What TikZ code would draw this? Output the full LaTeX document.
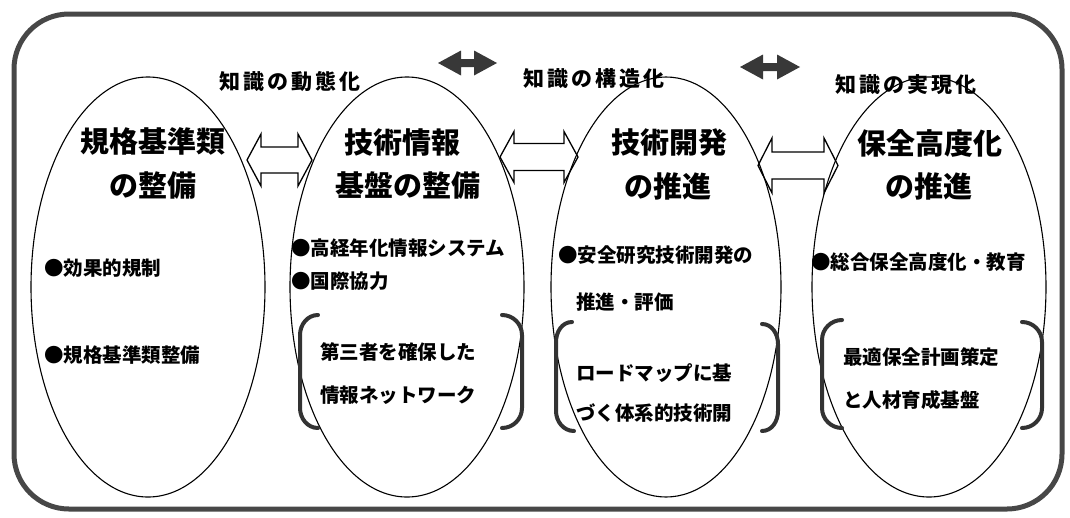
\documentclass[tikz,border=0pt]{standalone}
\usepackage{fontspec}
\newfontfamily\jp{Noto Sans CJK JP}
\usetikzlibrary{shapes.geometric}
\newcommand\hollowdbl[5]{% xl, xr, yc, shaft half, head half
  \draw[harrow] (#1,#3) -- ({#1+14},{#3-#5}) -- ({#1+14},{#3-#4}) -- ({#2-14},{#3-#4}) -- ({#2-14},{#3-#5}) -- (#2,#3)
   -- ({#2-14},{#3+#5}) -- ({#2-14},{#3+#4}) -- ({#1+14},{#3+#4}) -- ({#1+14},{#3+#5}) -- cycle;}
\newcommand\soliddbl[3]{% xl, xr, yc
  \fill[sarrow] (#1,#3) -- ({#1+23},{#3-12.5}) -- ({#1+23},{#3-4}) -- ({#2-23},{#3-4}) -- ({#2-23},{#3-12.5}) -- (#2,#3)
   -- ({#2-23},{#3+12.5}) -- ({#2-23},{#3+4}) -- ({#1+23},{#3+4}) -- ({#1+23},{#3+12.5}) -- cycle;}
\begin{document}
\begin{tikzpicture}[x=1pt,y=-1pt,
  frame/.style={line width=5pt, draw=black!72, rounded corners=55pt},
  oval/.style={ellipse, draw, line width=1.1pt, inner sep=0pt, minimum width=234pt, minimum height=420pt},
  head/.style={font=\jp\bfseries\fontsize{29}{29}\selectfont, inner sep=0pt},
  toplab/.style={font=\jp\bfseries\fontsize{21}{21}\selectfont\addfontfeatures{LetterSpace=15}, inner sep=0pt},
  item/.style={font=\jp\bfseries\fontsize{19.5}{19.5}\selectfont, inner sep=0pt, anchor=west},
  brk/.style={line width=4pt, draw=black!80, line cap=round},
  harrow/.style={draw, line width=1.3pt, line join=miter},
  sarrow/.style={fill=black!78}]
\useasboundingbox (0,0) rectangle (1070,517);
\draw[frame] (14,14) rectangle (1062,509);

% ellipses
\node[oval] (e1) at (148,287) {};
\node[oval] (e2) at (407,287) {};
\node[oval, minimum width=230pt] (e3) at (666,287) {};
\node[oval] (e4) at (929,287) {};

% top labels and solid arrows
\node[toplab] (k1) at (290,82) {知識の動態化};
\node[toplab] (k2) at (594,79) {知識の構造化};
\node[toplab] (k3) at (906,85) {知識の実現化};
\soliddbl{438}{497}{63}
\soliddbl{740}{800}{67}

% hollow arrows between ellipses
\hollowdbl{247}{312}{160}{13}{26}
\hollowdbl{500}{578}{157}{13.5}{25.5}
\hollowdbl{758}{838}{165.5}{13.5}{27.5}

% headings
\node[head] (h1a) at (153,141) {規格基準類};
\node[head] (h1b) at (153,186) {の整備};
\node[head] (h2a) at (402,143) {技術情報};
\node[head] (h2b) at (408,186) {基盤の整備};
\node[head] (h3a) at (669,143) {技術開発};
\node[head] (h3b) at (668,186) {の推進};
\node[head] (h4a) at (930,143) {保全高度化};
\node[head] (h4b) at (929,186) {の推進};

% items ellipse 1
\node[item] (a1) at (44,268) {●効果的規制};
\node[item] (a2) at (44,355) {●規格基準類整備};
% ellipse 2
\node[item] (b1) at (291,248) {●高経年化情報システム};
\node[item] (b2) at (291,281) {●国際協力};
\node[item] (b3) at (320,352) {第三者を確保した};
\node[item] (b4) at (320,395) {情報ネットワーク};
% ellipse 3
\node[item] (c1) at (558,255) {●安全研究技術開発の};
\node[item] (c2) at (576,302) {推進・評価};
\node[item] (c3) at (576,373) {ロードマップに基};
\node[item] (c4) at (576,413) {づく体系的技術開};
% ellipse 4
\node[item] (d1) at (811,262) {●総合保全高度化・教育};
\node[item] (d2) at (843,357) {最適保全計画策定};
\node[item] (d3) at (843,400) {と人材育成基盤};

% brackets
\draw[brk] (318,315) to[out=180,in=90] (300,335) -- (300,408) to[out=-90,in=180] (318,428);
\draw[brk] (502,315) to[out=0,in=90] (522,335) -- (522,408) to[out=-90,in=0] (502,428);
\draw[brk] (572,322) to[out=180,in=90] (556,342) -- (556,411) to[out=-90,in=180] (574,431);
\draw[brk] (762,324) to[out=0,in=90] (778,344) -- (778,411) to[out=-90,in=0] (762,431);
\draw[brk] (842,320) to[out=180,in=90] (822,340) -- (822,408) to[out=-90,in=180] (842,428);
\draw[brk] (1022,322) to[out=0,in=90] (1042,342) -- (1042,408) to[out=-90,in=0] (1022,428);
\end{tikzpicture}
\end{document}
